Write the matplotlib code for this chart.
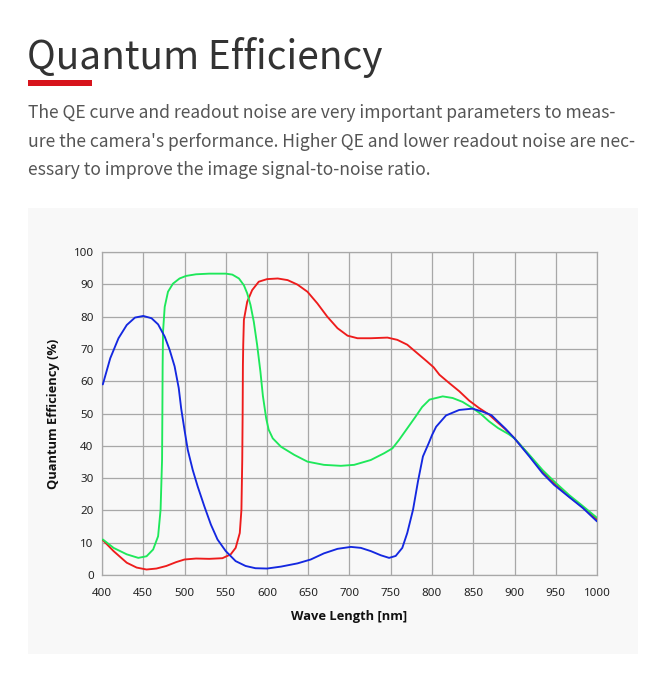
import matplotlib
matplotlib.use("Agg")
import matplotlib.pyplot as plt
from matplotlib.patches import Rectangle

# ---- data ----
blue_wl = [401, 410, 420, 430, 440, 450, 460, 468, 476, 482, 488, 493, 496, 500, 504, 510, 516, 524, 532,
           540, 550, 562, 574, 586, 600, 617, 637, 653, 669, 685.5, 701.6, 713.7, 725.8, 738, 748, 756,
           764, 770, 777, 783, 789, 796, 800, 805, 817, 833, 849, 861, 872, 878, 889, 900, 918, 934,
           948, 963, 983, 1000]
blue_qe = [59, 67.1, 73.3, 77.4, 79.7, 80.2, 79.5, 77.6, 73.8, 69.7, 64.6, 57.9, 51.5, 44.9, 38.7, 32.5, 27.4,
           21.3, 15.6, 11, 7.4, 4.3, 2.8, 2.1, 2, 2.6, 3.6, 4.8, 6.7, 8.1, 8.7, 8.4, 7.4, 6.1, 5.3, 5.9,
           8.4, 13, 20.2, 29, 36.7, 40.8, 43.3, 45.9, 49.4, 51.1, 51.5, 50.6, 49.5, 48, 45.3, 42.3, 36.7,
           31.5, 27.9, 24.8, 20.7, 16.6]

red_wl = [401, 414, 430, 442, 454, 466, 478, 490, 500, 514, 530, 546, 556, 562, 567, 569, 570, 570.5,
          570.8, 571.2, 572, 576, 582, 590, 600, 613, 625, 637, 649, 661, 673, 685.5, 697.6, 709.7,
          725.8, 746, 758, 770, 782, 794, 802, 809, 821, 833, 845, 857, 869, 878, 889, 900, 918, 934,
          948, 966, 983, 1000]
red_qe = [10.8, 7.4, 3.8, 2.3, 1.7, 2, 2.8, 4, 4.8, 5.1, 5, 5.2, 6.4, 8.4, 13, 20.2, 35.6, 51,
          65, 71.3, 79, 84.6, 88.2, 90.8, 91.6, 91.8, 91.3, 89.9, 87.7, 84.1, 80, 76.4, 74.1, 73.3,
          73.3, 73.5, 72.8, 71.3, 68.7, 66.1, 64.3, 62, 59.4, 56.9, 54, 51.7, 49.7, 47.6, 45.1, 42.3, 37,
          32, 28.4, 24.3, 21, 17.2]

green_wl = [401, 414, 430, 444, 454, 462, 468, 471, 472.8, 473.2, 473.5, 474, 476, 480, 486, 494, 502,
            514, 530, 550, 558, 566, 572, 576, 580, 584, 588, 592, 595, 597, 599, 602, 607, 617, 633,
            649, 669, 689.5, 705.6, 725.8, 742, 752, 760, 770, 780, 788, 797, 813, 825, 837, 849, 859,
            869, 880, 893, 900, 918, 934, 948, 966, 983, 1000]
green_qe = [11, 8.4, 6.4, 5.3, 5.8, 7.9, 12, 20.2, 35.6, 51, 65, 75.4, 83, 87.7, 90.2, 91.8, 92.6,
            93.1, 93.3, 93.3, 93, 91.8, 89.7, 87.2, 83.6, 78.4, 71.3, 63, 55.5, 52, 48.5, 45, 42.3, 39.7,
            37.2, 35.1, 34.1, 33.8, 34.1, 35.6, 37.7, 39.2, 41.8, 45.4, 49, 52, 54.3, 55.3, 54.8, 53.6,
            51.7, 49.9, 47.6, 45.5, 43.6, 42.3, 37.2, 32.5, 29, 24.8, 21.3, 17.7]

x_ticks = [400, 450, 500, 550, 600, 650, 700, 750, 800, 850, 900, 950, 1000]
y_ticks = [0, 10, 20, 30, 40, 50, 60, 70, 80, 90, 100]

title = "Quantum Efficiency"
body = ["The QE curve and readout noise are very important parameters to meas-",
        "ure the camera's performance. Higher QE and lower readout noise are nec-",
        "essary to improve the image signal-to-noise ratio."]

W, H = 665, 700
fig = plt.figure(figsize=(W / 100, H / 100), dpi=100)
fig.patch.set_facecolor("white")

def fx(px):
    return px / W

def fy(py):
    return 1 - py / H

# header
fig.text(fx(27), fy(68.5), title, fontsize=28, color="#333333",
         family=["Noto Sans CJK SC", "DejaVu Sans"], va="baseline", ha="left")
fig.add_artist(Rectangle((fx(28), fy(86)), fx(92) - fx(28), fy(80) - fy(86),
                         transform=fig.transFigure, facecolor="#d7141c", edgecolor="none"))
for i, line in enumerate(body):
    fig.text(fx(28), fy(118.5 + i * 28.3), line, fontsize=12.6, color="#555555",
             family=["Noto Sans CJK SC", "DejaVu Sans"], va="baseline", ha="left")

# panel
fig.add_artist(Rectangle((fx(28), fy(654)), fx(638) - fx(28), fy(208) - fy(654),
                         transform=fig.transFigure, facecolor="#f8f8f8", edgecolor="none", zorder=-10))

ax = fig.add_axes([fx(102), fy(575), fx(597) - fx(102), fy(252) - fy(575)])
ax.set_zorder(1)
ax.set_facecolor("#f8f8f8")
kw = dict(lw=1.35, solid_joinstyle="round", solid_capstyle="round")
ax.plot(red_wl, red_qe, color="#ee1c1c", zorder=3, **kw)
ax.plot(green_wl, green_qe, color="#1ee85a", zorder=4, **kw)
ax.plot(blue_wl, blue_qe, color="#1428e0", zorder=5, **kw)

ax.set_xlim(400, 1000)
ax.set_ylim(0, 100)
ax.set_xticks(x_ticks)
ax.set_yticks(y_ticks)
ax.grid(True, color="#a8a8a8", lw=0.9)
ax.set_axisbelow(True)
for s in ax.spines.values():
    s.set_color("#a8a8a8")
    s.set_linewidth(0.9)
ax.tick_params(length=0, labelsize=8.3, labelcolor="#222222")
ax.tick_params(axis="x", pad=9)
ax.tick_params(axis="y", pad=6)
for lab in ax.get_xticklabels() + ax.get_yticklabels():
    lab.set_family("Noto Sans")
ax.set_xlabel("Wave Length [nm]", fontsize=9.3, fontweight="bold", family=["Open Sans", "DejaVu Sans"],
              color="#111111", labelpad=8)
ax.set_ylabel("Quantum Efficiency (%)", fontsize=9.3, fontweight="bold", family=["Open Sans", "DejaVu Sans"],
              color="#111111", labelpad=10)

fig.savefig("out.png", dpi=100, facecolor="white")
